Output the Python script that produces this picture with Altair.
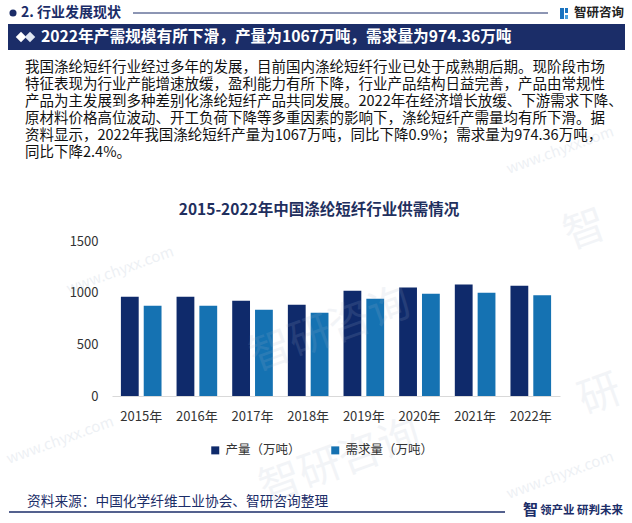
import altair as alt
import pandas as pd

# ---------------- data ----------------
years = ["2015年", "2016年", "2017年", "2018年", "2019年", "2020年", "2021年", "2022年"]
production = [961, 961, 922, 883, 1019, 1049, 1078, 1067]
demand = [874, 874, 835, 806, 942, 990, 998, 974.36]
series = ["产量（万吨）", "需求量（万吨）"]
y_ticks = [0, 500, 1000, 1500]

section_title = "2. 行业发展现状"
banner_title = "2022年产需规模有所下滑，产量为1067万吨，需求量为974.36万吨"
paragraph = [
    "我国涤纶短纤行业经过多年的发展，目前国内涤纶短纤行业已处于成熟期后期。现阶段市场",
    "特征表现为行业产能增速放缓，盈利能力有所下降，行业产品结构日益完善，产品由常规性",
    "产品为主发展到多种差别化涤纶短纤产品共同发展。2022年在经济增长放缓、下游需求下降、",
    "原材料价格高位波动、开工负荷下降等多重因素的影响下，涤纶短纤产需量均有所下滑。据",
    "资料显示，2022年我国涤纶短纤产量为1067万吨，同比下降0.9%；需求量为974.36万吨，",
    "同比下降2.4%。",
]
chart_title = "2015-2022年中国涤纶短纤行业供需情况"
source_text = "资料来源：中国化学纤维工业协会、智研咨询整理"
brand_text = "智研咨询"
slogan_a = "智"
slogan_b = "领产业 研判未来"

rows = []
for i, yr in enumerate(years):
    rows.append({"year": yr, "series": series[0], "value": production[i]})
    rows.append({"year": yr, "series": series[1], "value": demand[i]})
df = pd.DataFrame(rows)

# ---------------- layout ----------------
OX, OY = 112, 241          # plot origin in page pixels
PW, PH = 448, 155          # plot size
FONT = "Noto Sans CJK SC"
NAVY = "#1b2d68"
C_PROD = "#0f2a6b"
C_DEM = "#1572b2"


def px(x):
    return alt.value(x - OX)


def py(y):
    return alt.value(y - OY)


one = pd.DataFrame({"k": [0]})


def text(t, x, y, size, color, weight="normal", align="left", angle=0, opacity=1.0,
         baseline="middle"):
    kw = dict(font=FONT, fontSize=size, color=color, fontWeight=weight, align=align,
              baseline=baseline, opacity=opacity)
    if angle:
        kw["angle"] = angle
    return alt.Chart(pd.DataFrame({"t": [t]})).mark_text(**kw).encode(
        x=px(x), y=py(y), text="t:N")


def rect(x1, y1, x2, y2, color):
    return alt.Chart(one).mark_rect(color=color).encode(
        x=px(x1), x2=px(x2), y=py(y1), y2=py(y2))


def hline(x1, x2, y, color, w):
    return alt.Chart(one).mark_rule(color=color, strokeWidth=w).encode(
        x=px(x1), x2=px(x2), y=py(y))


# ---------------- bars ----------------
bars = alt.Chart(df).mark_bar().encode(
    x=alt.X("year:N", sort=years,
            scale=alt.Scale(paddingInner=0.27, paddingOuter=0.16),
            axis=alt.Axis(title=None, labelAngle=0, ticks=False, domainColor="#d9d9d9",
                          labelFont=FONT, labelFontSize=13, labelColor="#333333",
                          labelPadding=14)),
    xOffset=alt.XOffset("series:N", sort=series,
                        scale=alt.Scale(paddingInner=0.22, paddingOuter=0)),
    y=alt.Y("value:Q", scale=alt.Scale(domain=[0, 1500], nice=False),
            axis=alt.Axis(title=None, values=y_ticks, format="d", grid=False, domain=False,
                          ticks=False, labelFont=FONT, labelFontSize=13,
                          labelColor="#333333", labelPadding=14)),
    color=alt.Color("series:N", sort=series,
                    scale=alt.Scale(domain=series, range=[C_PROD, C_DEM]),
                    legend=alt.Legend(title=None, orient="none", direction="horizontal",
                                      legendX=97, legendY=203, symbolType="square",
                                      symbolSize=64, labelFont=FONT, labelFontSize=12.5,
                                      labelColor="#333333", columnPadding=28,
                                      labelOffset=4)),
)

# ---------------- decorations ----------------
layers = [
    # header
    alt.Chart(one).mark_point(filled=True, shape="circle", size=50, color=NAVY, opacity=1).encode(
        x=px(13), y=py(13)),
    text(section_title, 21, 13, 14, NAVY, weight="bold"),
    hline(133, 548, 13, NAVY, 1),
    rect(560, 8, 564, 19, "#1a73c0"),
    rect(565, 8, 568, 13, "#1a73c0"),
    rect(565, 15, 568, 19, "#4aa0e0"),
    text(brand_text, 574, 13, 12.5, "#222222", weight="bold"),
    # banner
    rect(8, 24, 625, 50, NAVY),
    alt.Chart(one).mark_point(filled=True, shape="diamond", size=110, color="#ffffff", opacity=1).encode(
        x=px(21), y=py(37)),
    alt.Chart(one).mark_point(filled=True, shape="diamond", size=110, color="#dfe6f2", opacity=1).encode(
        x=px(30), y=py(37)),
    text(banner_title, 41, 37, 15.7, "#ffffff", weight="bold"),
    # chart title
    text(chart_title, 319, 210, 15.5, "#1f2f5e", weight="bold", align="center"),
    # footer
    text(source_text, 27, 502, 13.7, NAVY),
    hline(9, 505, 512, NAVY, 1.5),
    text(slogan_a, 523, 510, 15, NAVY, weight="bold"),
    text(slogan_b, 540, 511, 11.5, NAVY, weight="bold"),
]

# paragraph, one line per text mark
for i, line in enumerate(paragraph):
    layers.append(text(line, 25, 68 + 17 * i, 14.5, "#111111"))

# faint watermarks
wm_big = [("智研咨询", 330, 330), ("智研咨询", 340, 462), ("智", 585, 230), ("研", 600, 395)]
wm_small = [("www.chyxx.com", 120, 270), ("www.chyxx.com", 560, 150),
            ("www.chyxx.com", 60, 440), ("www.chyxx.com", 560, 475)]
for t, x, y in wm_big:
    layers.append(text(t, x, y, 42, "#a9b7cc", align="center", angle=340, opacity=0.14))
for t, x, y in wm_small:
    layers.append(text(t, x, y, 15, "#a9b7cc", align="center", angle=340, opacity=0.2))

chart = alt.layer(bars, *layers).properties(
    width=PW, height=PH,
    autosize=alt.AutoSizeParams(type="none"),
    padding={"left": OX, "top": OY, "right": 632 - OX - PW, "bottom": 523 - OY - PH},
    background="white",
).configure_view(stroke=None)

chart.save("out.html", embed_options={"renderer": "svg", "actions": False})
